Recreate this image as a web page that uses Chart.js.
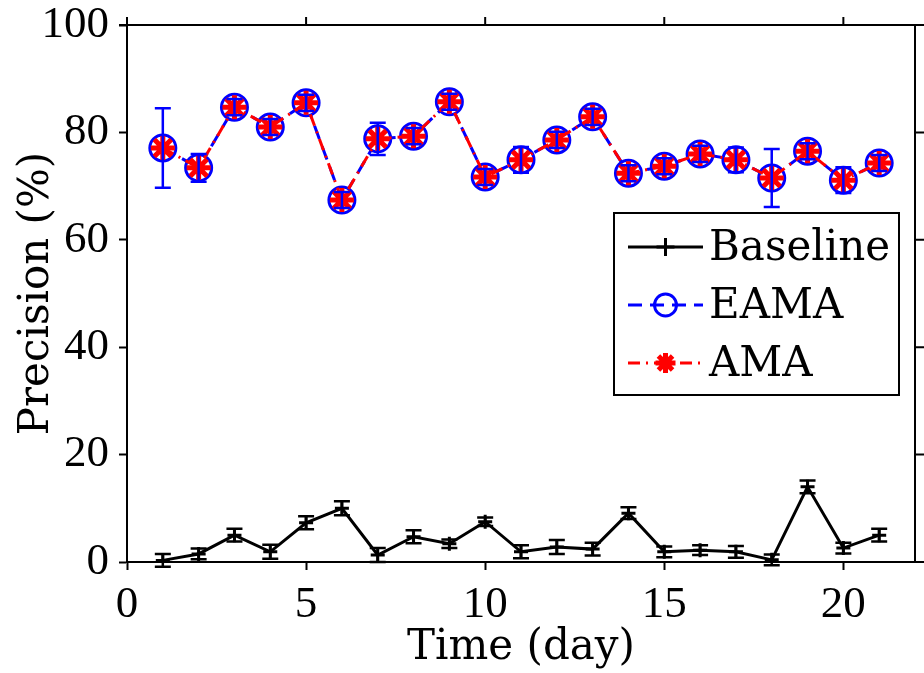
<!DOCTYPE html>
<html>
<head>
<meta charset="utf-8">
<script src="https://cdn.jsdelivr.net/npm/chart.js@4.4.1/dist/chart.umd.min.js"></script>
<style>
  html, body { margin: 0; padding: 0; background: #fff; }
</style>
</head>
<body>
<canvas id="chart" width="924" height="673"></canvas>
<script>
  // data
  const days = [1, 2, 3, 4, 5, 6, 7, 8, 9, 10, 11, 12, 13, 14, 15, 16, 17, 18, 19, 20, 21];
  const baseline = [0.3, 1.5, 5.0, 1.9, 7.3, 10.0, 1.3, 4.7, 3.4, 7.5, 1.9, 2.8, 2.4, 9.1, 1.9, 2.2, 1.9, 0.4, 14.0, 2.6, 5.0];
  const baselineErr = [1.2, 1.0, 1.2, 1.3, 1.2, 1.3, 1.3, 1.2, 0.8, 0.8, 1.2, 1.3, 1.2, 1.1, 1.0, 0.9, 1.1, 1.0, 1.2, 1.0, 1.2];
  const eama = [77.1, 73.4, 84.7, 81.0, 85.5, 67.4, 78.8, 79.3, 85.7, 71.7, 74.9, 78.6, 82.9, 72.4, 73.7, 76.0, 74.9, 71.5, 76.5, 71.1, 74.3];
  const eamaErr = [7.4, 2.6, 1.5, 1.5, 1.5, 1.5, 3.0, 1.5, 1.5, 1.5, 2.4, 1.5, 1.5, 1.5, 1.5, 1.5, 2.3, 5.4, 1.5, 2.4, 1.5];
  const ama = [77.1, 73.4, 84.7, 81.0, 85.5, 67.4, 78.8, 79.3, 85.7, 71.7, 74.9, 78.6, 82.9, 72.4, 73.7, 76.0, 74.9, 71.5, 76.5, 71.1, 74.3];

  const seriesNames = ['Baseline', 'EAMA', 'AMA'];
  const xTicks = [0, 5, 10, 15, 20];
  const yTicks = [0, 20, 40, 60, 80, 100];

  const xMin = 0, xMax = 22;
  const yMin = 0, yMax = 100;

  function toPoints(vals) {
    return days.map((d, i) => ({ x: d, y: vals[i] }));
  }

  const tickFont = { family: 'Liberation Serif', size: 45 };
  const labelFont = { family: 'DejaVu Serif', size: 42 };

  // error bars, drawn after all datasets so the blue bars sit on top
  const errorBars = {
    id: 'errorBars',
    afterDatasetsDraw(chart) {
      const ctx = chart.ctx;
      const xs = chart.scales.x, ys = chart.scales.y;
      chart.data.datasets.forEach(ds => {
        if (!ds.errors) return;
        ctx.save();
        ctx.strokeStyle = ds.borderColor;
        ctx.lineWidth = 2.5;
        ds.data.forEach((p, i) => {
          const px = xs.getPixelForValue(p.x);
          const top = ys.getPixelForValue(p.y + ds.errors[i]);
          const bot = ys.getPixelForValue(p.y - ds.errors[i]);
          ctx.beginPath();
          ctx.moveTo(px, top); ctx.lineTo(px, bot);
          ctx.moveTo(px - 8, top); ctx.lineTo(px + 8, top);
          ctx.moveTo(px - 8, bot); ctx.lineTo(px + 8, bot);
          ctx.stroke();
        });
        ctx.restore();
      });
    }
  };

  // top and right frame with outward ticks
  const frame = {
    id: 'frame',
    afterDraw(chart) {
      const ctx = chart.ctx;
      const a = chart.chartArea;
      const xs = chart.scales.x, ys = chart.scales.y;
      ctx.save();
      ctx.strokeStyle = '#000';
      ctx.lineWidth = 2;
      ctx.beginPath();
      ctx.moveTo(a.left - 8, a.top); ctx.lineTo(chart.width, a.top);
      ctx.moveTo(a.right, a.top); ctx.lineTo(a.right, a.bottom);
      xTicks.forEach(v => {
        const px = xs.getPixelForValue(v);
        ctx.moveTo(px, a.top); ctx.lineTo(px, a.top - 8);
      });
      yTicks.forEach(v => {
        const py = ys.getPixelForValue(v);
        ctx.moveTo(a.right, py); ctx.lineTo(a.right + 9, py);
      });
      ctx.stroke();
      ctx.restore();
    }
  };

  // boxed legend in the style of the figure
  const boxLegend = {
    id: 'boxLegend',
    afterDraw(chart, args, opts) {
      const ctx = chart.ctx;
      ctx.save();
      ctx.fillStyle = '#fff';
      ctx.fillRect(opts.left, opts.top, opts.width, opts.height);
      ctx.strokeStyle = '#000';
      ctx.lineWidth = 2;
      ctx.strokeRect(opts.left, opts.top, opts.width, opts.height);
      const order = [2, 1, 0];
      order.forEach((dsIndex, row) => {
        const ds = chart.data.datasets[dsIndex];
        const y = opts.top + opts.firstRow + row * opts.rowGap;
        const x0 = opts.left + 14, x1 = x0 + 75;
        ctx.save();
        ctx.strokeStyle = ds.borderColor;
        ctx.lineWidth = ds.borderWidth;
        ctx.setLineDash(ds.borderDash || []);
        ctx.beginPath();
        ctx.moveTo(x0, y); ctx.lineTo(x1, y);
        ctx.stroke();
        ctx.setLineDash([]);
        ctx.strokeStyle = ds.pointBorderColor;
        ctx.fillStyle = ds.legendFill;
        ctx.lineWidth = ds.pointBorderWidth;
        Chart.helpers.drawPoint(ctx, {
          pointStyle: ds.pointStyle,
          radius: ds.legendRadius,
          borderWidth: ds.pointBorderWidth
        }, (x0 + x1) / 2, y);
        ctx.restore();
        ctx.fillStyle = '#000';
        ctx.font = '42px "DejaVu Serif"';
        ctx.textBaseline = 'middle';
        ctx.fillText(ds.label, x1 + 6, y + 2);
      });
      ctx.restore();
    }
  };

  function noPad(scale) {
    scale.paddingTop = 0;
    scale.paddingBottom = 0;
    scale.paddingLeft = 0;
    scale.paddingRight = 0;
  }

  new Chart(document.getElementById('chart'), {
    type: 'line',
    data: {
      datasets: [
        {
          label: seriesNames[2],
          data: toPoints(ama),
          borderColor: '#ff0000',
          backgroundColor: '#ff0000',
          borderWidth: 3,
          borderDash: [12, 6, 2, 6],
          pointStyle: 'star',
          pointRadius: 12,
          pointBorderWidth: 5,
          pointBorderColor: '#ff0000',
          legendRadius: 10,
          legendFill: 'rgba(0,0,0,0)',
          order: 0
        },
        {
          label: seriesNames[1],
          data: toPoints(eama),
          errors: eamaErr,
          borderColor: '#0000ff',
          backgroundColor: '#ffffff',
          borderWidth: 3,
          borderDash: [14, 8],
          pointStyle: 'circle',
          pointRadius: 13,
          pointBorderWidth: 3,
          pointBorderColor: '#0000ff',
          pointBackgroundColor: '#ffffff',
          legendRadius: 11,
          legendFill: 'rgba(0,0,0,0)',
          order: 1
        },
        {
          label: seriesNames[0],
          data: toPoints(baseline),
          errors: baselineErr,
          borderColor: '#000000',
          backgroundColor: '#000000',
          borderWidth: 3,
          pointStyle: 'cross',
          pointRadius: 7,
          pointBorderWidth: 3,
          pointBorderColor: '#000000',
          legendRadius: 9,
          legendFill: '#000000',
          order: 2
        }
      ]
    },
    options: {
      responsive: false,
      devicePixelRatio: 1,
      animation: false,
      layout: { autoPadding: false, padding: { top: 25, right: 9, left: 0, bottom: 0 } },
      elements: { line: { tension: 0 } },
      scales: {
        x: {
          type: 'linear',
          min: xMin,
          max: xMax,
          afterBuildTicks(scale) { scale.ticks = xTicks.map(v => ({ value: v })); },
          afterFit(scale) { scale.height = 111; noPad(scale); },
          ticks: { font: tickFont, color: '#000', padding: 8, maxRotation: 0 },
          grid: { drawOnChartArea: false, tickLength: 8, tickWidth: 2, color: '#000' },
          border: { color: '#000', width: 2 },
          title: { display: true, text: 'Time (day)', font: labelFont, color: '#000', padding: { top: 0, bottom: 0 } }
        },
        y: {
          type: 'linear',
          min: yMin,
          max: yMax,
          afterBuildTicks(scale) { scale.ticks = yTicks.map(v => ({ value: v })); },
          afterFit(scale) { scale.width = 127; noPad(scale); },
          ticks: { font: tickFont, color: '#000', padding: 10 },
          grid: { drawOnChartArea: false, tickLength: 8, tickWidth: 2, color: '#000' },
          border: { color: '#000', width: 2 },
          title: { display: true, text: 'Precision (%)', font: labelFont, color: '#000', padding: { top: 12, bottom: 0 } }
        }
      },
      plugins: {
        legend: { display: false },
        tooltip: { enabled: false },
        boxLegend: { left: 614, top: 213, width: 285, height: 182, firstRow: 34, rowGap: 58 }
      }
    },
    plugins: [errorBars, frame, boxLegend]
  });
</script>
</body>
</html>
